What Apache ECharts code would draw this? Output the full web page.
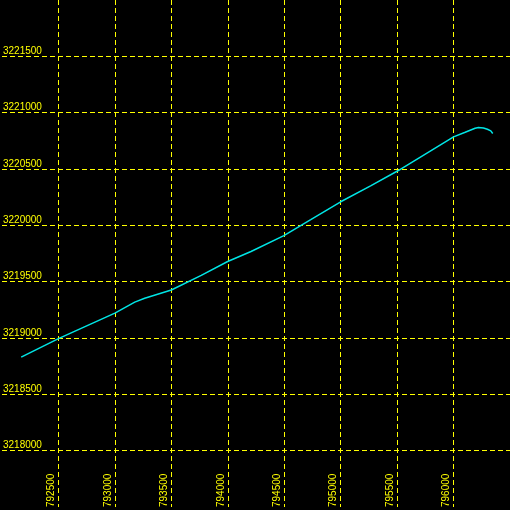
<!DOCTYPE html>
<html>
<head>
<meta charset="utf-8">
<script src="https://cdn.jsdelivr.net/npm/echarts@6/dist/echarts.min.js"></script>
<style>
html,body{margin:0;padding:0;background:#000;}
#chart{width:510px;height:510px;}
</style>
</head>
<body>
<div id="chart"></div>
<script>
// Track easting / northing values
const eastings = [792170, 792500, 793000, 793176, 793264, 793500, 793765, 793999, 794206, 794497, 794735, 795000, 795265, 795503, 795750, 796000, 796103, 796191, 796220, 796265, 796300, 796330, 796347];
const northings = [3218830, 3218994, 3219221, 3219318, 3219353, 3219426, 3219556, 3219679, 3219768, 3219909, 3220050, 3220209, 3220350, 3220482, 3220632, 3220785, 3220826, 3220862, 3220868, 3220864, 3220853, 3220838, 3220815];
const xTicks = [792500, 793000, 793500, 794000, 794500, 795000, 795500, 796000];
const yTicks = [3218000, 3218500, 3219000, 3219500, 3220000, 3220500, 3221000, 3221500];

const points = eastings.map((e, i) => [e, northings[i]]);
const chart = echarts.init(document.getElementById('chart'), null, {renderer: 'canvas'});
const gridLine = {show: true, showMinLine: false, showMaxLine: false, lineStyle: {color: '#ffff00', type: [5, 3], width: 1}};
chart.setOption({
  backgroundColor: '#000000',
  animation: false,
  grid: {left: 0, right: 0, top: 0, bottom: 0, containLabel: false},
  xAxis: {
    type: 'value', min: 792000, max: 796500, interval: 500, position: 'bottom',
    axisLine: {show: false}, axisTick: {show: false},
    splitLine: gridLine,
    axisLabel: {
      inside: true, rotate: 90, margin: 0, color: '#ffff00', fontSize: 10,
      fontFamily: 'Liberation Sans', align: 'left', verticalAlign: 'bottom',
      padding: [0, 0, 2, 0],
      showMinLabel: false, showMaxLabel: false,
      formatter: v => xTicks.includes(v) ? String(v) : ''
    }
  },
  yAxis: {
    type: 'value', min: 3217500, max: 3222000, interval: 500, position: 'left',
    axisLine: {show: false}, axisTick: {show: false},
    splitLine: gridLine,
    axisLabel: {
      inside: true, margin: 1, color: '#ffff00', fontSize: 10,
      fontFamily: 'Liberation Sans', align: 'left', verticalAlign: 'bottom',
      showMinLabel: false, showMaxLabel: false,
      formatter: v => yTicks.includes(v) ? String(v) : ''
    }
  },
  series: [{
    type: 'line', data: points, showSymbol: false, smooth: false,
    lineStyle: {color: '#00e5e5', width: 1.5}
  }]
});
</script>
</body>
</html>
